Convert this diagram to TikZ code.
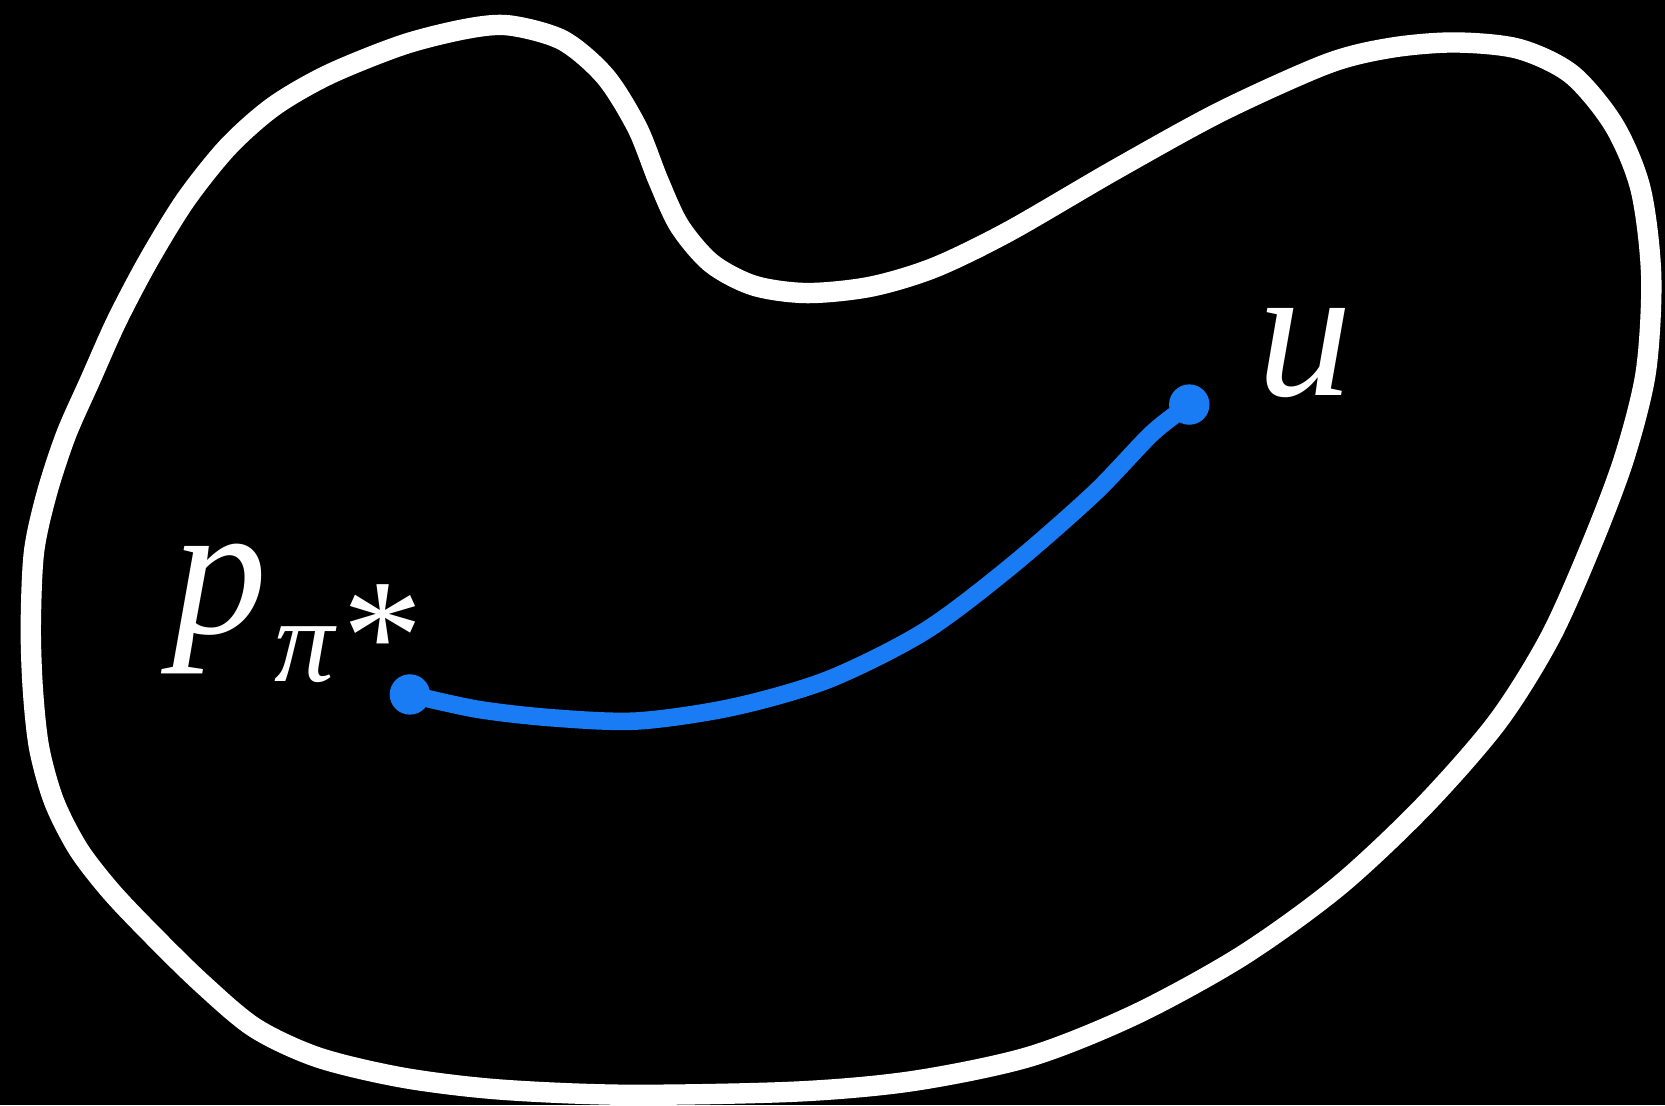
\documentclass[tikz,border=0pt]{standalone}
\usepackage{fontspec}
\setmainfont{Liberation Serif}
\definecolor{myblue}{HTML}{1A7CF4}
\begin{document}
\begin{tikzpicture}[x=0.010619cm,y=-0.010619cm,
  blob/.style={draw=white,line width=5.8pt,line join=round},
  blueline/.style={draw=myblue,line width=5pt,line cap=round},
  bdot/.style={circle,fill=myblue,inner sep=0pt,minimum size=11.5pt},
  lbl/.style={text=white,inner sep=0pt,anchor=base west}]
\fill[black] (0,0) rectangle (1568,1041);
\useasboundingbox (0,0) rectangle (1568,1041);
\draw[blob] plot[smooth cycle,tension=0.5] coordinates {
 (29,590) (32,520) (44,465) (62,410) (85,358) (110,302) (140,245) (175,188)
 (215,138) (258,100) (310,70) (380,42) (440,27) (480,24) (530,38) (570,72)
 (600,120) (620,170) (640,213) (670,248) (710,269) (760,276) (820,270)
 (880,252) (950,218) (1050,160) (1150,105) (1250,60) (1310,45) (1370,40)
 (1430,46) (1480,70) (1520,118) (1545,178) (1555,260) (1550,350) (1530,430)
 (1500,510) (1460,600) (1410,680) (1340,760) (1260,835) (1170,900)
 (1070,955) (970,995) (860,1018) (750,1028) (590,1031) (470,1026)
 (380,1015) (300,996) (240,968) (190,926) (145,882) (105,840) (74,800)
 (51,755) (37,705) (31,650)};
\node[bdot] (s) at (386,654) {};
\node[bdot] (t) at (1120,381) {};
\draw[blueline] plot[smooth,tension=0.5] coordinates {
 (s.center) (450,668) (520,676) (600,679) (690,666) (780,640) (870,595)
 (950,535) (1030,465) (1085,408) (t.center)};
\node[lbl] (p) at (162,597) {\fontsize{54}{60}\selectfont\itshape p};
\node[lbl] (sub) at (258,642) {\fontsize{34}{40}\selectfont\itshape π};
\node[lbl] (star) at (322,650) {\fontsize{46}{50}\selectfont *};
\node[lbl] (u) at (1184,372) {\fontsize{54}{60}\selectfont\itshape u};
\end{tikzpicture}
\end{document}
